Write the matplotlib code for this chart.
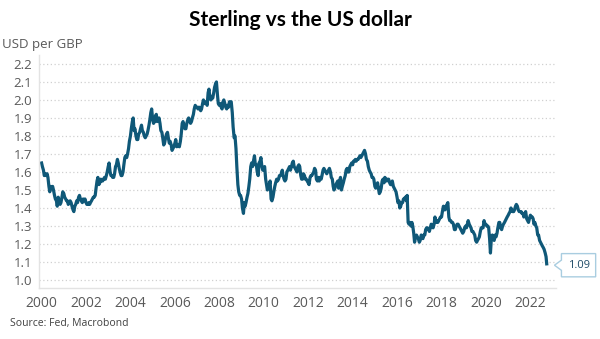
import numpy as np
import pandas as pd
import matplotlib
matplotlib.use("Agg")
import matplotlib.pyplot as plt
import matplotlib.dates as mdates
from matplotlib.path import Path

# GBP/USD, roughly twice a month (1st and 15th)
usd_per_gbp = [
    # 2000
    1.65, 1.63, 1.61, 1.58, 1.59, 1.58, 1.59, 1.57, 1.52, 1.49, 1.52, 1.51,
    1.52, 1.50, 1.47, 1.45, 1.44, 1.41, 1.46, 1.43, 1.42, 1.43, 1.46, 1.49,
    # 2001
    1.48, 1.46, 1.45, 1.44, 1.44, 1.42, 1.43, 1.44, 1.43, 1.41, 1.39, 1.38,
    1.41, 1.42, 1.44, 1.43, 1.46, 1.47, 1.45, 1.44, 1.43, 1.45, 1.44, 1.45,
    # 2002
    1.43, 1.42, 1.42, 1.43, 1.42, 1.43, 1.44, 1.45, 1.46, 1.46, 1.47, 1.51,
    1.55, 1.57, 1.53, 1.54, 1.56, 1.55, 1.55, 1.56, 1.57, 1.56, 1.58, 1.60,
    # 2003
    1.63, 1.65, 1.60, 1.58, 1.58, 1.57, 1.57, 1.59, 1.63, 1.64, 1.67, 1.65,
    1.62, 1.60, 1.58, 1.58, 1.60, 1.64, 1.68, 1.69, 1.68, 1.70, 1.73, 1.77,
    # 2004
    1.80, 1.84, 1.88, 1.90, 1.83, 1.84, 1.80, 1.78, 1.78, 1.81, 1.82, 1.84,
    1.86, 1.83, 1.82, 1.80, 1.79, 1.80, 1.81, 1.83, 1.86, 1.89, 1.93, 1.95,
    # 2005
    1.89, 1.87, 1.88, 1.91, 1.92, 1.88, 1.89, 1.90, 1.87, 1.83, 1.82, 1.79,
    1.75, 1.76, 1.79, 1.81, 1.82, 1.79, 1.76, 1.77, 1.75, 1.72, 1.73, 1.74,
    # 2006
    1.76, 1.78, 1.74, 1.75, 1.75, 1.74, 1.77, 1.81, 1.87, 1.88, 1.85, 1.84,
    1.84, 1.87, 1.89, 1.90, 1.88, 1.87, 1.88, 1.90, 1.92, 1.95, 1.97, 1.96,
    # 2007
    1.96, 1.95, 1.96, 1.95, 1.94, 1.95, 1.98, 2.00, 1.98, 1.98, 1.99, 1.97,
    2.04, 2.06, 2.01, 2.00, 2.02, 2.01, 2.04, 2.07, 2.09, 2.10, 2.03, 1.98,
    # 2008
    1.97, 1.98, 1.96, 1.95, 1.99, 2.00, 1.98, 1.96, 1.95, 1.97, 1.96, 1.99,
    1.99, 1.99, 1.93, 1.85, 1.79, 1.80, 1.73, 1.63, 1.53, 1.49, 1.47, 1.47,
    # 2009
    1.45, 1.40, 1.37, 1.43, 1.41, 1.43, 1.46, 1.48, 1.52, 1.56, 1.63, 1.65,
    1.63, 1.66, 1.69, 1.64, 1.64, 1.60, 1.58, 1.65, 1.66, 1.68, 1.63, 1.61,
    # 2010
    1.62, 1.63, 1.56, 1.53, 1.50, 1.51, 1.53, 1.55, 1.45, 1.44, 1.46, 1.49,
    1.52, 1.54, 1.56, 1.55, 1.56, 1.58, 1.58, 1.59, 1.61, 1.58, 1.56, 1.55,
    # 2011
    1.56, 1.60, 1.61, 1.62, 1.63, 1.61, 1.63, 1.65, 1.66, 1.63, 1.62, 1.61,
    1.60, 1.63, 1.64, 1.63, 1.58, 1.56, 1.56, 1.59, 1.58, 1.56, 1.56, 1.55,
    # 2012
    1.54, 1.53, 1.57, 1.58, 1.58, 1.59, 1.60, 1.62, 1.61, 1.56, 1.55, 1.57,
    1.55, 1.57, 1.56, 1.58, 1.61, 1.62, 1.61, 1.60, 1.59, 1.60, 1.61, 1.62,
    # 2013
    1.60, 1.57, 1.56, 1.52, 1.50, 1.51, 1.53, 1.54, 1.55, 1.51, 1.55, 1.57,
    1.50, 1.52, 1.54, 1.56, 1.58, 1.61, 1.62, 1.60, 1.60, 1.63, 1.64, 1.65,
    # 2014
    1.64, 1.66, 1.66, 1.67, 1.66, 1.67, 1.67, 1.68, 1.69, 1.68, 1.69, 1.70,
    1.71, 1.72, 1.70, 1.67, 1.66, 1.63, 1.61, 1.60, 1.59, 1.57, 1.57, 1.56,
    # 2015
    1.52, 1.51, 1.52, 1.54, 1.51, 1.48, 1.49, 1.51, 1.55, 1.56, 1.54, 1.57,
    1.56, 1.55, 1.56, 1.56, 1.54, 1.53, 1.53, 1.55, 1.52, 1.51, 1.50, 1.49,
    # 2016
    1.46, 1.43, 1.44, 1.40, 1.41, 1.43, 1.43, 1.45, 1.45, 1.46, 1.44, 1.47,
    1.32, 1.31, 1.32, 1.30, 1.32, 1.30, 1.26, 1.21, 1.24, 1.25, 1.24, 1.23,
    # 2017
    1.21, 1.22, 1.25, 1.24, 1.23, 1.25, 1.25, 1.28, 1.29, 1.29, 1.28, 1.27,
    1.29, 1.31, 1.30, 1.29, 1.31, 1.35, 1.32, 1.33, 1.32, 1.33, 1.34, 1.35,
    # 2018
    1.35, 1.38, 1.41, 1.39, 1.39, 1.41, 1.42, 1.43, 1.35, 1.33, 1.33, 1.32,
    1.32, 1.31, 1.28, 1.28, 1.30, 1.31, 1.31, 1.30, 1.29, 1.28, 1.27, 1.26,
    # 2019
    1.27, 1.29, 1.30, 1.29, 1.31, 1.33, 1.31, 1.30, 1.29, 1.27, 1.27, 1.26,
    1.25, 1.22, 1.21, 1.22, 1.23, 1.24, 1.27, 1.29, 1.29, 1.29, 1.33, 1.31,
    # 2020
    1.31, 1.30, 1.30, 1.29, 1.23, 1.15, 1.24, 1.25, 1.23, 1.22, 1.25, 1.24,
    1.26, 1.29, 1.32, 1.32, 1.29, 1.28, 1.30, 1.31, 1.32, 1.33, 1.34, 1.35,
    # 2021
    1.36, 1.37, 1.38, 1.40, 1.39, 1.38, 1.38, 1.39, 1.41, 1.42, 1.41, 1.39,
    1.38, 1.38, 1.38, 1.37, 1.37, 1.35, 1.37, 1.38, 1.34, 1.33, 1.32, 1.34,
    # 2022
    1.36, 1.35, 1.35, 1.34, 1.31, 1.32, 1.30, 1.29, 1.25, 1.25, 1.22, 1.21,
    1.20, 1.19, 1.18, 1.17, 1.15, 1.13,
    1.09,
]
dates = list(pd.date_range("2000-01-01", "2022-09-15", freq="SMS")) + [pd.Timestamp("2022-09-26")]

year_ticks = list(range(2000, 2023, 2))
y_ticks = [1.0, 1.1, 1.2, 1.3, 1.4, 1.5, 1.6, 1.7, 1.8, 1.9, 2.0, 2.1, 2.2]

line_col = "#0f5878"
grey = "#595959"


def callout(x0, y0, width, height, mutation_size):
    # box with a small pointer notch on its left side
    pad = mutation_size * 0.55
    x0, y0 = x0 - pad, y0 - pad
    w, h = width + 2 * pad, height + 2 * pad
    ym = y0 + h / 2
    a, d = h * 0.22, h * 0.3
    verts = [(x0, y0), (x0 + w, y0), (x0 + w, y0 + h), (x0, y0 + h),
             (x0, ym + a), (x0 - d, ym), (x0, ym - a), (x0, y0)]
    return Path(verts, closed=True)


fig = plt.figure(figsize=(6, 3.39), dpi=100)
ax = fig.add_axes([0.065, 0.150, 0.862, 0.688])

ax.plot(dates, usd_per_gbp, color=line_col, lw=2.3, solid_joinstyle="round")

ax.set_xlim(pd.Timestamp("1999-11-20"), pd.Timestamp("2023-03-01"))
ax.set_ylim(0.955, 2.25)
ax.set_xticks([pd.Timestamp(f"{y}-01-01") for y in year_ticks])
ax.xaxis.set_major_formatter(mdates.DateFormatter("%Y"))
ax.set_yticks(y_ticks)
ax.set_yticklabels([f"{v:.1f}" for v in y_ticks])

ax.grid(axis="y", color="#d0d0d0", linestyle=(0, (1, 2)), lw=0.9)
ax.set_axisbelow(True)
for s in ["top", "right"]:
    ax.spines[s].set_visible(False)
for s in ["left", "bottom"]:
    ax.spines[s].set_color("#e3e3e3")
    ax.spines[s].set_linewidth(1.0)
ax.tick_params(length=0, colors=grey)
ax.tick_params(axis="y", pad=5, labelsize=9.5)
ax.tick_params(axis="x", pad=6, labelsize=10)
for lab in ax.get_xticklabels() + ax.get_yticklabels():
    lab.set_fontfamily("Open Sans")

fig.text(0.5, 0.94, "Sterling vs the US dollar", ha="center", va="center",
         fontsize=15, fontweight="bold", family="Lato")
fig.text(0.003, 0.868, "USD per GBP", ha="left", va="center", fontsize=9.5,
         color=grey, family="Open Sans")
fig.text(0.017, 0.046, "Source: Fed, Macrobond", ha="left", va="center",
         fontsize=7.5, color="#404040", family="Open Sans")

ax.annotate("1.09", xy=(dates[-1], usd_per_gbp[-1]), xytext=(15, -1),
            textcoords="offset points", ha="left", va="center",
            fontsize=8, color="#1d4a66", family="Open Sans",
            bbox=dict(boxstyle=callout, fc="white", ec="#a9cde0", lw=1),
            annotation_clip=False)

fig.savefig("out.png", dpi=100)
